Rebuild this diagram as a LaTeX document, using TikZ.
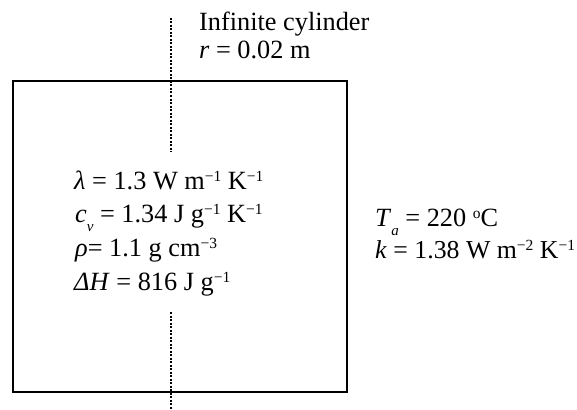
\documentclass[tikz,border=0pt]{standalone}
\usepackage{fontspec}
\setmainfont{Liberation Serif}
\newcommand{\lsub}[1]{\raisebox{-9.5pt}{\fontsize{15}{15}\selectfont\itshape #1}}
\newcommand{\usup}[1]{\raisebox{8pt}{\fontsize{15.5}{15.5}\selectfont #1}}
\begin{document}
\begin{tikzpicture}[x=1pt,y=-1pt,
  txt/.style={anchor=base west, inner sep=0pt, font=\fontsize{26.3}{30}\selectfont},
  axisline/.style={line width=1.3pt, dash pattern=on 2pt off 1.5pt},
  boxline/.style={draw, line width=2pt, inner sep=0pt}]
\useasboundingbox (0,0) rectangle (577,409);
\node[boxline, minimum width=334.5pt, minimum height=311pt, anchor=north west] (cyl) at (11.5,80) {};
\coordinate (axTop) at (171,18);
\coordinate (axEndA) at (171,152);
\coordinate (axStartB) at (171,312);
\coordinate (axBot) at (171,409);
\draw[axisline] (axTop) -- (axEndA);
\draw[axisline] (axStartB) -- (axBot);
\node[txt] (title) at (199,31) {Infinite cylinder};
\node[txt] (rad) at (199,59) {\textit{r} = 0.02 m};
\node[txt] (lam) at (74,189) {\textit{λ} = 1.3 W m\usup{−1} K\usup{−1}};
\node[txt] (cv) at (75,222) {\textit{c}\lsub{v} = 1.34 J g\usup{−1} K\usup{−1}};
\node[txt] (rho) at (75,256) {\textit{ρ}= 1.1 g cm\usup{−3}};
\node[txt] (dH) at (74,290) {\textit{ΔH} = 816 J g\usup{−1}};
\node[txt] (Ta) at (375,226) {\textit{T}\lsub{a} = 220 \usup{o}C};
\node[txt, font=\fontsize{25.8}{30}\selectfont] (kk) at (375,258) {\textit{k} = 1.38 W m\usup{−2} K\usup{−1}};
\end{tikzpicture}
\end{document}
